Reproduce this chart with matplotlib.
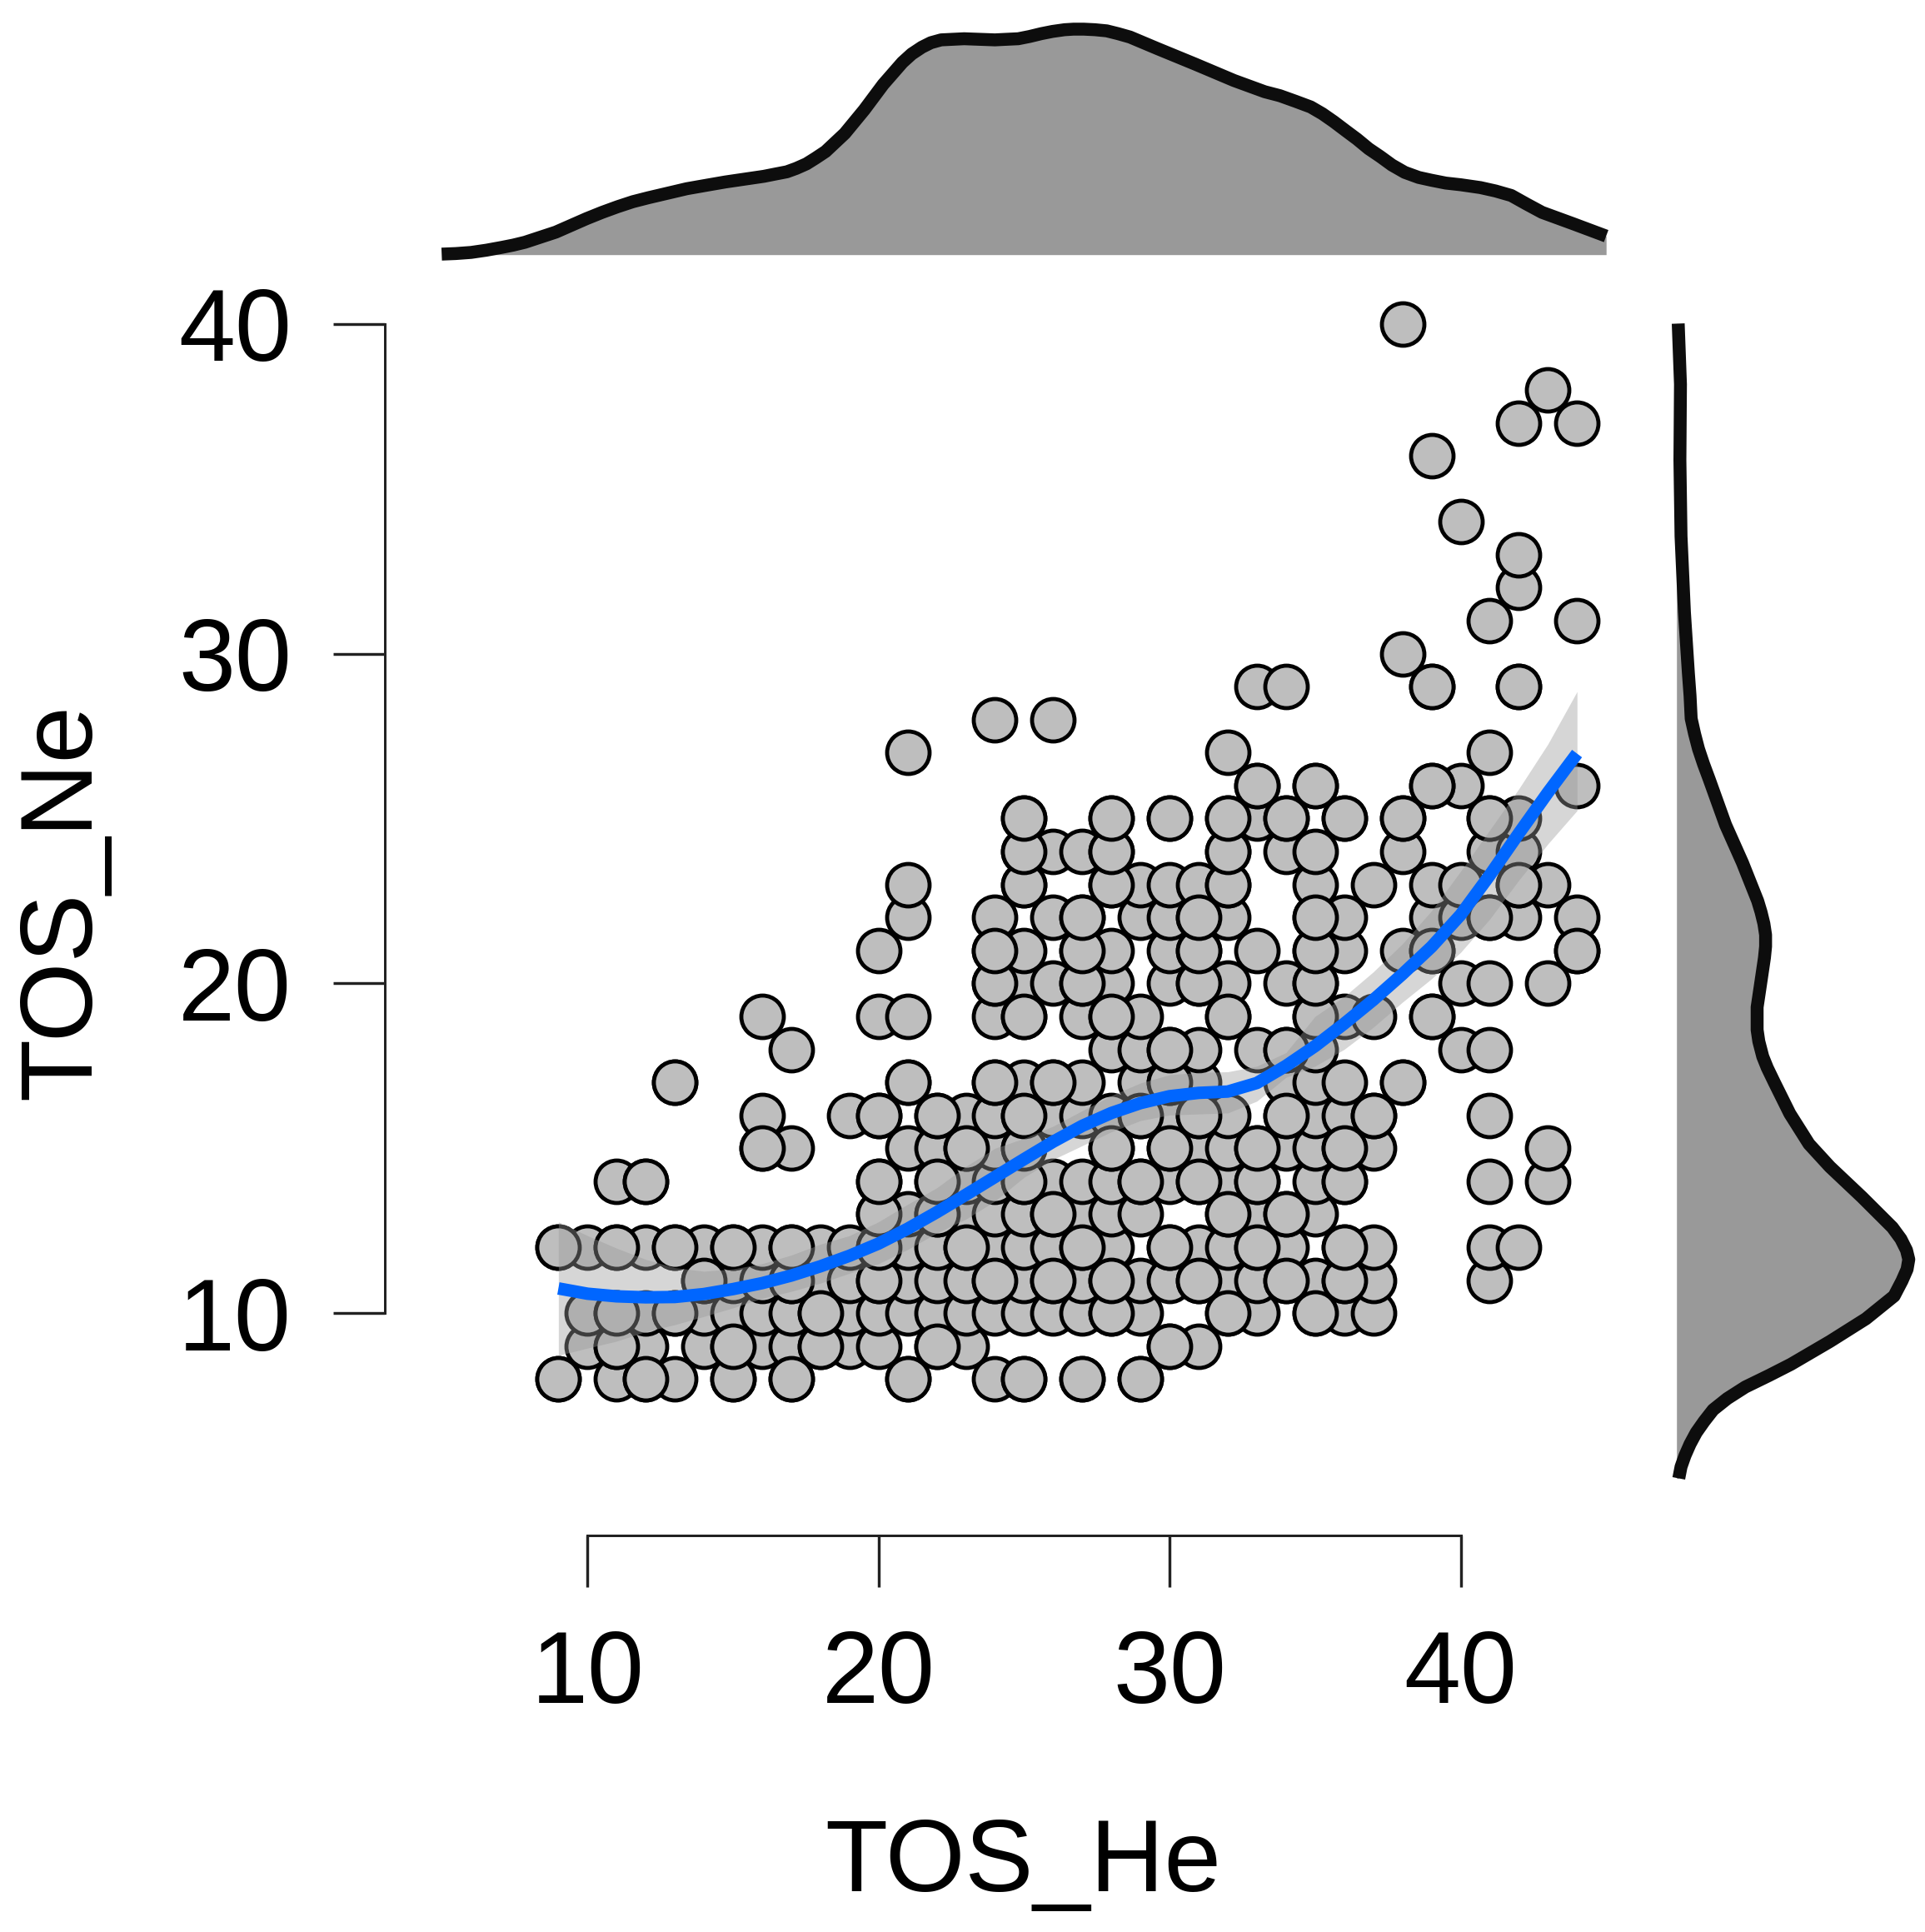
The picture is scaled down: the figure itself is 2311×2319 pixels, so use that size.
import numpy as np
import matplotlib
matplotlib.use("Agg")
import matplotlib.pyplot as plt

plt.rcParams['font.family'] = ['Liberation Sans', 'DejaVu Sans']

# TOS_He values for each TOS_Ne row
he_08 = [9, 11, 12, 13, 15, 17, 21, 24, 25, 27, 29]
he_09 = [10, 11, 12, 14, 15, 16, 17, 18, 19, 20, 22, 23, 30, 31]
he_10 = [10, 11, 12, 13, 14, 15, 16, 17, 18, 19, 20, 21, 22, 23, 24, 25, 26, 27, 28, 29, 32, 33, 35, 36, 37]
he_11 = [14, 15, 16, 17, 18, 19, 20, 21, 22, 23, 24, 25, 26, 27, 28, 29, 30, 31, 32, 33, 34, 35, 36, 37, 41]
he_12 = [9, 10, 11, 12, 13, 14, 15, 16, 17, 18, 19, 20, 21, 22, 23, 24, 25, 26, 27, 28, 30, 31, 32, 33, 34, 36, 37, 41, 42]
he_13 = [20, 21, 22, 23, 24, 25, 26, 27, 28, 29, 32, 33, 34, 35]
he_14 = [11, 12, 20, 22, 23, 24, 25, 26, 27, 28, 29, 30, 31, 32, 33, 35, 36, 41, 43]
he_15 = [16, 17, 21, 22, 23, 24, 25, 28, 30, 31, 32, 33, 34, 35, 36, 37, 43]
he_16 = [16, 19, 20, 22, 23, 24, 25, 26, 27, 28, 29, 30, 31, 32, 34, 35, 36, 37, 41]
he_17 = [13, 21, 24, 25, 26, 27, 29, 30, 31, 34, 35, 36, 38]
he_18 = [17, 28, 29, 30, 31, 33, 34, 35, 40, 41]
he_19 = [16, 20, 21, 24, 25, 27, 28, 29, 32, 35, 36, 37, 39]
he_20 = [24, 25, 26, 27, 28, 30, 31, 32, 34, 35, 40, 41, 43]
he_21 = [20, 24, 25, 27, 28, 30, 31, 33, 35, 36, 38, 39, 44]
he_22 = [21, 24, 26, 27, 29, 30, 31, 32, 35, 36, 39, 40, 41, 42, 44]
he_23 = [21, 25, 28, 29, 30, 31, 32, 35, 37, 39, 40, 42, 43]
he_24 = [25, 26, 27, 28, 32, 34, 35, 38, 41, 42]
he_25 = [25, 28, 30, 32, 33, 34, 36, 38, 41, 42]
he_26 = [33, 35, 40, 44, 39]
he_27 = [21, 32, 41]
he_28 = [24, 26]
he_29 = [33, 34, 39, 42]
he_30 = [38]
he_31 = [41, 44]
he_32 = [42]
he_33 = [42]
he_34 = [40]
he_36 = [39]
he_37 = [42, 44]
he_38 = [43]
he_40 = [38]

ne_rows = [8, 9, 10, 11, 12, 13, 14, 15, 16, 17, 18, 19, 20, 21, 22, 23, 24, 25, 26, 27, 28, 29, 30, 31, 32, 33, 34, 36, 37, 38, 40]
he_rows = [he_08, he_09, he_10, he_11, he_12, he_13, he_14, he_15, he_16, he_17, he_18, he_19, he_20, he_21, he_22,
           he_23, he_24, he_25, he_26, he_27, he_28, he_29, he_30, he_31, he_32, he_33, he_34, he_36, he_37, he_38, he_40]

# points that sit on top of their neighbours
front_he = [9, 12, 15, 17, 21, 25, 27, 29, 11, 15, 18, 22, 30, 11, 13, 18, 28, 32, 35, 14, 17, 20, 24, 26, 28, 31, 34, 36,
            9, 11, 13, 15, 17, 20, 23, 27, 30, 33, 36, 20, 22, 26, 32, 34, 12, 20, 22, 25, 29, 31, 33, 36,
            16, 23, 25, 28, 30, 33, 36, 20, 22, 25, 29, 31, 34, 37, 13, 21, 24, 26, 30, 38,
            30, 34, 25, 28, 32, 35, 39, 24, 27, 31, 35, 24, 27, 31, 35, 39, 44, 27, 31, 35, 41,
            25, 28, 32, 42, 25, 28, 32, 25, 28, 30, 32, 34, 36, 38, 41, 33, 35, 39, 39, 42]
front_ne = [8, 8, 8, 8, 8, 8, 8, 8, 9, 9, 9, 9, 9, 10, 10, 10, 10, 10, 10, 11, 11, 11, 11, 11, 11, 11, 11, 11,
            12, 12, 12, 12, 12, 12, 12, 12, 12, 12, 12, 13, 13, 13, 13, 13, 14, 14, 14, 14, 14, 14, 14, 14,
            15, 15, 15, 15, 15, 15, 15, 16, 16, 16, 16, 16, 16, 16, 17, 17, 17, 17, 17, 17,
            18, 18, 19, 19, 19, 19, 19, 20, 20, 20, 20, 21, 21, 21, 21, 21, 21, 22, 22, 22, 22,
            23, 23, 23, 23, 24, 24, 24, 25, 25, 25, 25, 25, 25, 25, 25, 26, 26, 26, 29, 29]

# smooth line and its band
smooth_x = [9, 10, 11, 12, 13, 14, 15, 16, 17, 18, 19, 20, 21, 22, 23, 24, 25, 26, 27, 28, 29, 30, 31, 32, 33, 34, 35, 36, 37, 38, 39, 40, 41, 42, 43, 44]
smooth_y = [10.75, 10.59, 10.51, 10.48, 10.49, 10.58, 10.73, 10.91, 11.14, 11.42, 11.74, 12.11, 12.56, 13.06, 13.59, 14.13, 14.67, 15.2, 15.68, 16.07, 16.37, 16.58, 16.68, 16.72, 16.98, 17.5, 18.1, 18.78, 19.5, 20.28, 21.11, 22.08, 23.28, 24.55, 25.79, 26.97]
band_hi = [12.77, 12.35, 11.97, 11.63, 11.38, 11.27, 11.34, 11.5, 11.76, 12.09, 12.35, 12.77, 13.3, 13.8, 14.45, 15.0, 15.3, 15.67, 16.14, 16.6, 16.98, 17.23, 17.3, 17.32, 17.49, 17.9, 19.0, 19.6, 20.35, 21.2, 22.2, 23.4, 24.65, 25.9, 27.26, 28.85]
band_lo = [8.72, 8.94, 9.15, 9.44, 9.65, 9.9, 10.16, 10.45, 10.66, 10.91, 11.21, 11.5, 11.93, 12.43, 12.85, 13.4, 14.12, 14.66, 15.08, 15.5, 15.84, 16.01, 16.04, 16.07, 16.43, 17.15, 17.49, 18.0, 18.67, 19.43, 20.14, 20.94, 21.95, 23.13, 24.23, 25.24]

# marginal densities
top_x = [4.99, 5.47, 6.0, 6.53, 7.06, 7.45, 7.85, 8.38, 8.91, 9.44, 9.97, 10.5, 11.03, 11.56, 12.09, 12.75, 13.41, 14.07, 14.74, 15.4,
         16.06, 16.45, 16.85, 17.17, 17.52, 17.83, 18.18, 18.84, 19.51, 20.16, 20.82, 21.14, 21.49, 21.8, 22.15, 22.54, 22.94, 23.47, 24.0,
         24.39, 24.8, 25.19, 25.59, 25.98, 26.39, 26.7, 27.05, 27.44, 27.84, 28.23, 28.64, 29.56, 30.88, 32.21, 33.27, 33.79, 34.33, 34.85,
         35.25, 35.64, 36.05, 36.44, 36.84, 37.24, 37.64, 38.08, 38.56, 39.0, 39.49, 40.01, 40.68, 41.2, 41.74, 42.26, 42.8, 43.86, 45.0]
top_d = [.0001, .0002, .0004, .0008, .0013, .0017, .0022, .0031, .0040, .0052, .0064, .0075, .0085, .0094, .0101, .0109, .0117, .0123, .0129, .0134,
         .0139, .0143, .0147, .0153, .0161, .0171, .0183, .0215, .0257, .0302, .0341, .0356, .0368, .0376, .0381, .0382, .0383, .0382, .0381,
         .0382, .0383, .0387, .0392, .0396, .0399, .0400, .0400, .0399, .0397, .0392, .0386, .0366, .0338, .0309, .0289, .0282, .0272, .0262,
         .0250, .0236, .0220, .0205, .0188, .0174, .0159, .0146, .0137, .0132, .0127, .0124, .0119, .0113, .0105, .0090, .0075, .0055, .0033]
right_y = [40.01, 38.17, 35.87, 33.56, 31.26, 29.42, 28.72, 28.03, 27.57, 27.11, 26.65, 26.19, 24.81, 23.66, 22.5, 22.16, 21.81, 21.47, 21.12, 20.78,
           20.2, 19.74, 19.28, 18.93, 18.59, 18.24, 17.78, 17.44, 16.98, 16.05, 15.13, 14.44, 13.52, 12.6, 12.25, 11.91, 11.63, 11.33, 10.98, 10.52,
           9.83, 9.14, 8.45, 8.11, 7.76, 7.41, 7.07, 6.72, 6.38, 6.03, 5.68, 5.34, 4.99]
right_d = [.0003, .0007, .0006, .0008, .0014, .0021, .0024, .0026, .0032, .0039, .0048, .0058, .0087, .0117, .0144, .0150, .0155, .0158, .0158, .0156,
           .0151, .0147, .0143, .0143, .0143, .0146, .0153, .0161, .0174, .0201, .0235, .0272, .0329, .0383, .0398, .0408, .0412, .0409, .0400, .0386,
           .0336, .0272, .0203, .0164, .0122, .0090, .0065, .0049, .0035, .0024, .0015, .0008, .0004]

x_ticks = [10, 20, 30, 40]
y_ticks = [10, 20, 30, 40]

W, H = 2311, 2319
fig = plt.figure(figsize=(W / 100, H / 100), dpi=100)


def add_axes_px(left, top, right, bottom):
    return fig.add_axes([left / W, 1 - bottom / H, (right - left) / W, (bottom - top) / H])


pt = 72 / 100  # points per pixel
ax = add_axes_px(530.6, 349.2, 1928.2, 1774.1)
ax.set_xlim(5, 45)
ax.set_ylim(5, 41)
ax.patch.set_alpha(0)

px = [h for row in he_rows for h in row]
py = [n for n, row in zip(ne_rows, he_rows) for h in row]
marker = dict(s=(51 * pt) ** 2, color='#bebebe', edgecolor='black', linewidth=4.8 * pt, clip_on=False)
ax.scatter(px, py, zorder=2, **marker)
ax.scatter(front_he, front_ne, zorder=3, **marker)

ax.fill_between(smooth_x, band_lo, band_hi, color='#999999', alpha=0.4, linewidth=0, zorder=4)
ax.plot(smooth_x, smooth_y, color='#0066ff', linewidth=15 * pt, solid_capstyle='butt', solid_joinstyle='round', zorder=5)

for s in ['top', 'right']:
    ax.spines[s].set_visible(False)
ax.spines['left'].set_position(('outward', 68.6 * pt))
ax.spines['bottom'].set_position(('outward', 69.2 * pt))
ax.spines['left'].set_bounds(10, 40)
ax.spines['bottom'].set_bounds(10, 40)
ax.spines['left'].set_linewidth(3 * pt)
ax.spines['bottom'].set_linewidth(3 * pt)
ax.spines['left'].set_color('#222222')
ax.spines['bottom'].set_color('#222222')
ax.set_xticks(x_ticks)
ax.set_yticks(y_ticks)
ax.tick_params(axis='both', length=62 * pt, width=3.4 * pt, color='#222222', labelsize=88, pad=50 * pt)

fig.text(1228.5 / W, 1 - 2270 / H, 'TOS_He', fontsize=88.5, ha='center', va='baseline')
fig.text(108.5 / W, 1 - 1082 / H, 'TOS_Ne', fontsize=88.5, ha='center', va='baseline', rotation=90, rotation_mode='anchor')

# top density
dens_scale = 0.04 / 270.7  # density per pixel
top_ax = add_axes_px(530.6, 0, 1928.2, 305.7)
top_ax.set_xlim(5, 45)
top_ax.set_ylim(0, 305.7 * dens_scale)
top_ax.axis('off')
top_ax.fill_between(top_x, 0, top_d, color='#999999', linewidth=0)
top_ax.plot(top_x, top_d, color='#0d0d0d', linewidth=15.5 * pt, solid_capstyle='butt', solid_joinstyle='round', clip_on=False)

# right density
right_ax = add_axes_px(2012.7, 349.2, 2311, 1774.1)
right_ax.set_ylim(5, 41)
right_ax.set_xlim(0, 298.3 * dens_scale)
right_ax.axis('off')
right_ax.fill_betweenx(right_y, 0, right_d, color='#999999', linewidth=0)
right_ax.plot(right_d, right_y, color='#0d0d0d', linewidth=15.5 * pt, solid_capstyle='butt', solid_joinstyle='round', clip_on=False)

fig.savefig('out.png', dpi=100)
